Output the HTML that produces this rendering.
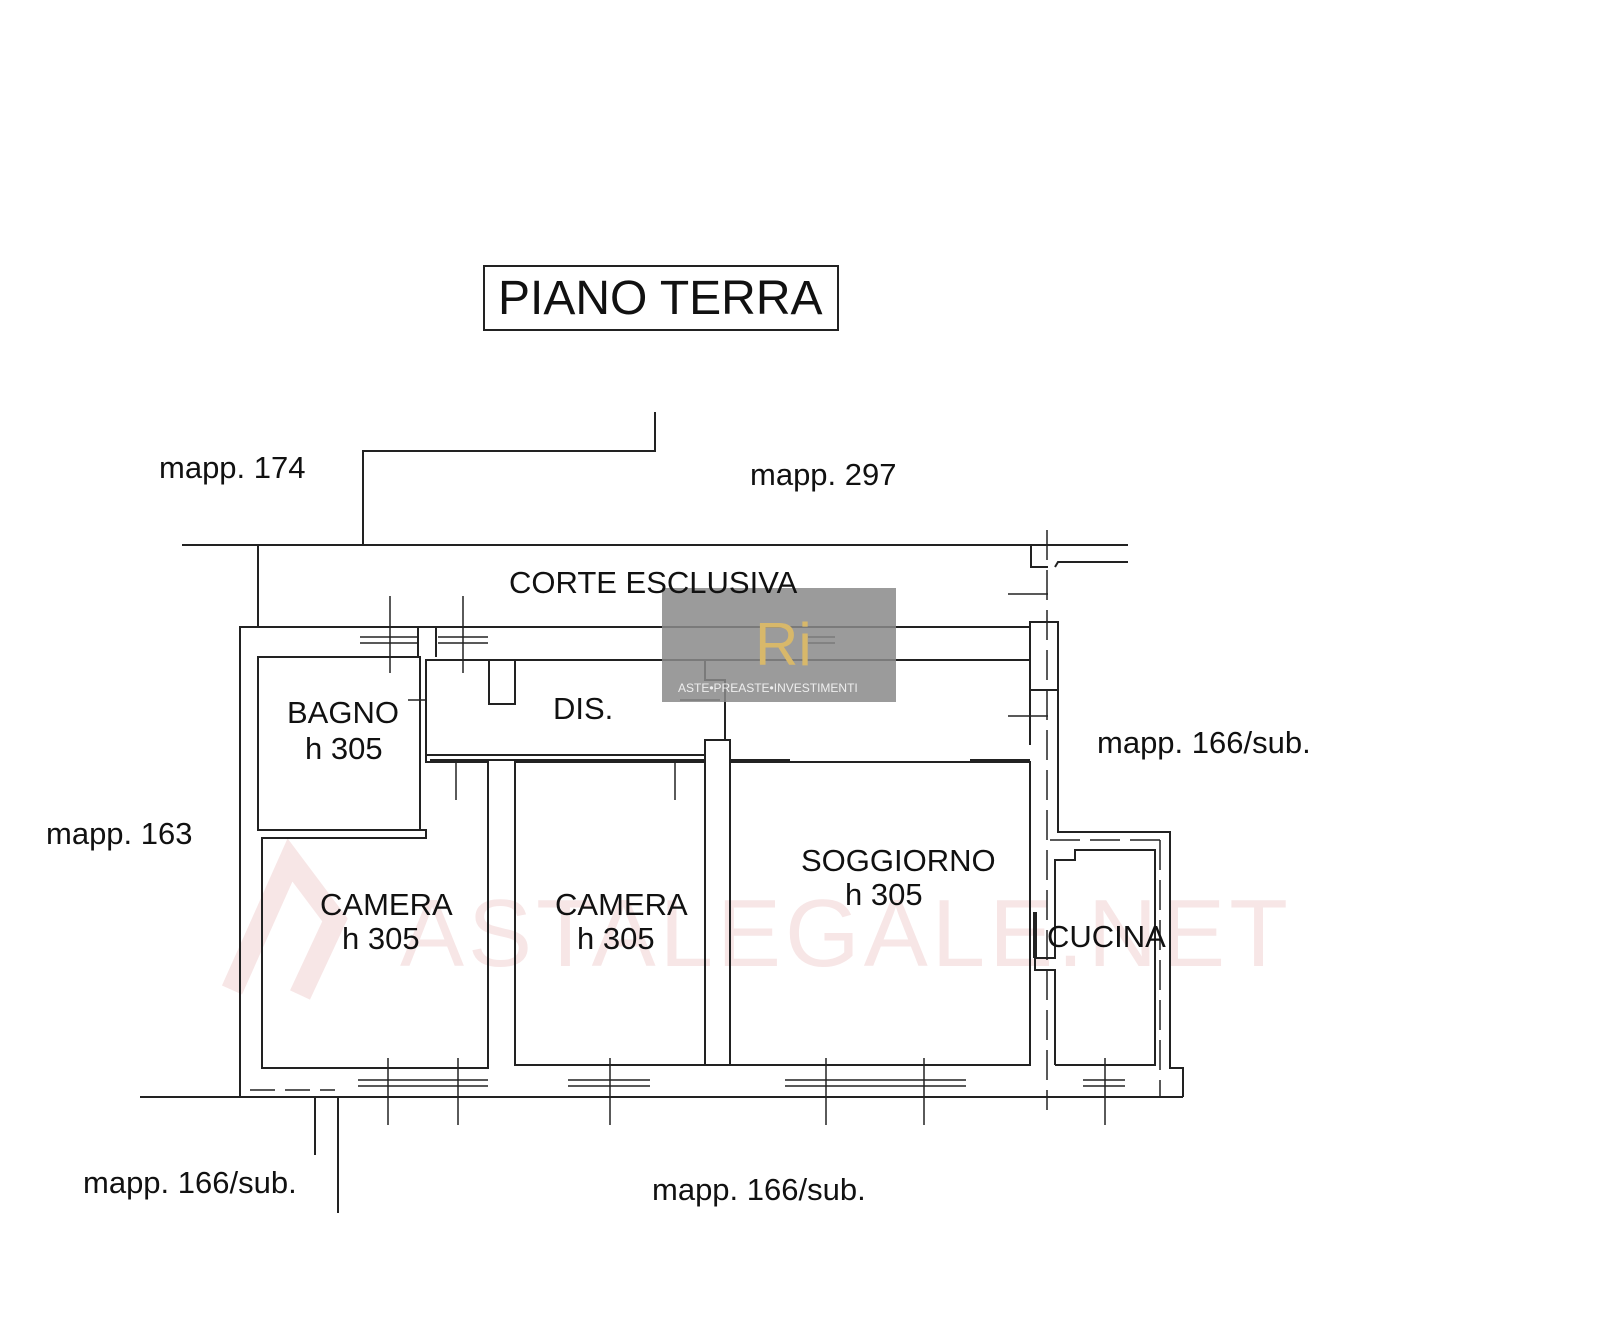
<!DOCTYPE html>
<html><head><style>body{margin:0;background:#fff}svg{display:block}text{font-family:"Liberation Sans",sans-serif;fill:#111}</style></head><body>
<svg width="1600" height="1323" viewBox="0 0 1600 1323" xmlns="http://www.w3.org/2000/svg">
<text x="400" y="966" font-size="96" style="fill:#f7e6e6" letter-spacing="4">ASTALEGALE.NET</text>
<path d="M232,990 L290,860 L335,920 L300,995" stroke="#f7e6e6" stroke-width="22" fill="none"/>
<g stroke="#222" stroke-width="2" fill="none">
<rect x="484" y="266" width="354" height="64"/>
<polyline points="655,412 655,451 363,451 363,545"/>
<line x1="182" y1="545" x2="1128" y2="545"/>
<line x1="258" y1="545" x2="258" y2="627"/>
<polyline points="1031,545 1031,567 1048,567"/>
<polyline points="1055,567 1058,562 1128,562"/>
<line x1="1047" y1="530" x2="1047" y2="1110" stroke-dasharray="30,10" stroke-width="1.5"/>
<line x1="140" y1="1097" x2="240" y2="1097"/>
<polyline points="315,1097 315,1155"/>
<polyline points="338,1097 338,1213"/>
<polyline points="240,1097 240,627 1030,627"/>
<line x1="240" y1="1097" x2="1183" y2="1097"/>
<polyline points="1183,1097 1183,1068 1170,1068 1170,832 1058,832 1058,622 1030,622 1030,627"/>
<polyline points="1030,660 1030,690 1058,690"/>
<polyline points="1030,622 1030,745"/>
<line x1="1058" y1="745" x2="1058" y2="822"/>
<line x1="1050" y1="840" x2="1160" y2="840" stroke-dasharray="30,10" stroke-width="1.5"/>
<line x1="1160" y1="840" x2="1160" y2="1097" stroke-dasharray="30,10" stroke-width="1.5"/>
<line x1="250" y1="1090" x2="335" y2="1090" stroke-dasharray="25,10" stroke-width="1.5"/>
<rect x="258" y="657" width="162" height="173"/>
<polyline points="420,830 426,830 426,838 262,838 262,1068 488,1068 488,762 426,762 426,660 1030,660"/>
<polyline points="418,657 418,627"/>
<polyline points="436,627 436,657"/>
<rect x="489" y="660" width="26" height="44"/>
<polyline points="705,660 705,680 725,680 725,740"/>
<line x1="426" y1="755" x2="705" y2="755"/>
<line x1="430" y1="760" x2="705" y2="760"/>
<rect x="705" y="740" width="25" height="325"/>
<line x1="730" y1="760" x2="790" y2="760"/>
<line x1="970" y1="760" x2="1030" y2="760"/>
<rect x="515" y="762" width="190" height="303"/>
<rect x="730" y="762" width="300" height="303"/>
<polyline points="1030,762 1030,1065"/>
<polyline points="1055,1065 1055,970 1035,970 1035,958 1055,958 1055,860 1075,860 1075,850 1155,850 1155,1065 1055,1065"/>
<line x1="1035" y1="912" x2="1035" y2="958" stroke-width="4"/>
<g stroke-width="1.5">
<line x1="360" y1="637" x2="418" y2="637"/><line x1="360" y1="643" x2="418" y2="643"/>
<line x1="438" y1="637" x2="488" y2="637"/><line x1="438" y1="643" x2="488" y2="643"/>
<line x1="390" y1="596" x2="390" y2="673"/><line x1="463" y1="596" x2="463" y2="673"/>
<line x1="808" y1="637" x2="835" y2="637"/><line x1="808" y1="643" x2="835" y2="643"/>
<line x1="1008" y1="594" x2="1048" y2="594"/><line x1="1008" y1="716" x2="1048" y2="716"/>
<line x1="408" y1="700" x2="425" y2="700"/>
<line x1="456" y1="762" x2="456" y2="800"/><line x1="675" y1="762" x2="675" y2="800"/>
<line x1="680" y1="700" x2="720" y2="700"/>
<line x1="358" y1="1080" x2="488" y2="1080"/><line x1="358" y1="1086" x2="488" y2="1086"/>
<line x1="568" y1="1080" x2="650" y2="1080"/><line x1="568" y1="1086" x2="650" y2="1086"/>
<line x1="785" y1="1080" x2="966" y2="1080"/><line x1="785" y1="1086" x2="966" y2="1086"/>
<line x1="1083" y1="1080" x2="1125" y2="1080"/><line x1="1083" y1="1086" x2="1125" y2="1086"/>
<line x1="388" y1="1058" x2="388" y2="1125"/><line x1="458" y1="1058" x2="458" y2="1125"/>
<line x1="610" y1="1058" x2="610" y2="1125"/><line x1="826" y1="1058" x2="826" y2="1125"/>
<line x1="924" y1="1058" x2="924" y2="1125"/><line x1="1105" y1="1058" x2="1105" y2="1125"/>
</g>
</g>
<rect x="662" y="588" width="234" height="114" fill="#8a8a8a" opacity="0.85"/>
<text x="755" y="665" font-size="60" style="fill:#d8b86a" font-family="Liberation Serif">Ri</text>
<text x="678" y="692" font-size="12" style="fill:#eee" font-family="Liberation Serif">ASTE•PREASTE•INVESTIMENTI</text>
<text x="498" y="314" font-size="48">PIANO TERRA</text>
<g font-size="31">
<text x="159" y="478">mapp. 174</text>
<text x="750" y="485">mapp. 297</text>
<text x="509" y="593">CORTE ESCLUSIVA</text>
<text x="1097" y="753">mapp. 166/sub.</text>
<text x="46" y="844">mapp. 163</text>
<text x="83" y="1193">mapp. 166/sub.</text>
<text x="652" y="1200">mapp. 166/sub.</text>
<text x="287" y="723">BAGNO</text>
<text x="305" y="759">h 305</text>
<text x="553" y="719">DIS.</text>
<text x="320" y="915">CAMERA</text>
<text x="342" y="949">h 305</text>
<text x="555" y="915">CAMERA</text>
<text x="577" y="949">h 305</text>
<text x="801" y="871">SOGGIORNO</text>
<text x="845" y="905">h 305</text>
<text x="1047" y="947">CUCINA</text>
</g>
</svg>
</body></html>
